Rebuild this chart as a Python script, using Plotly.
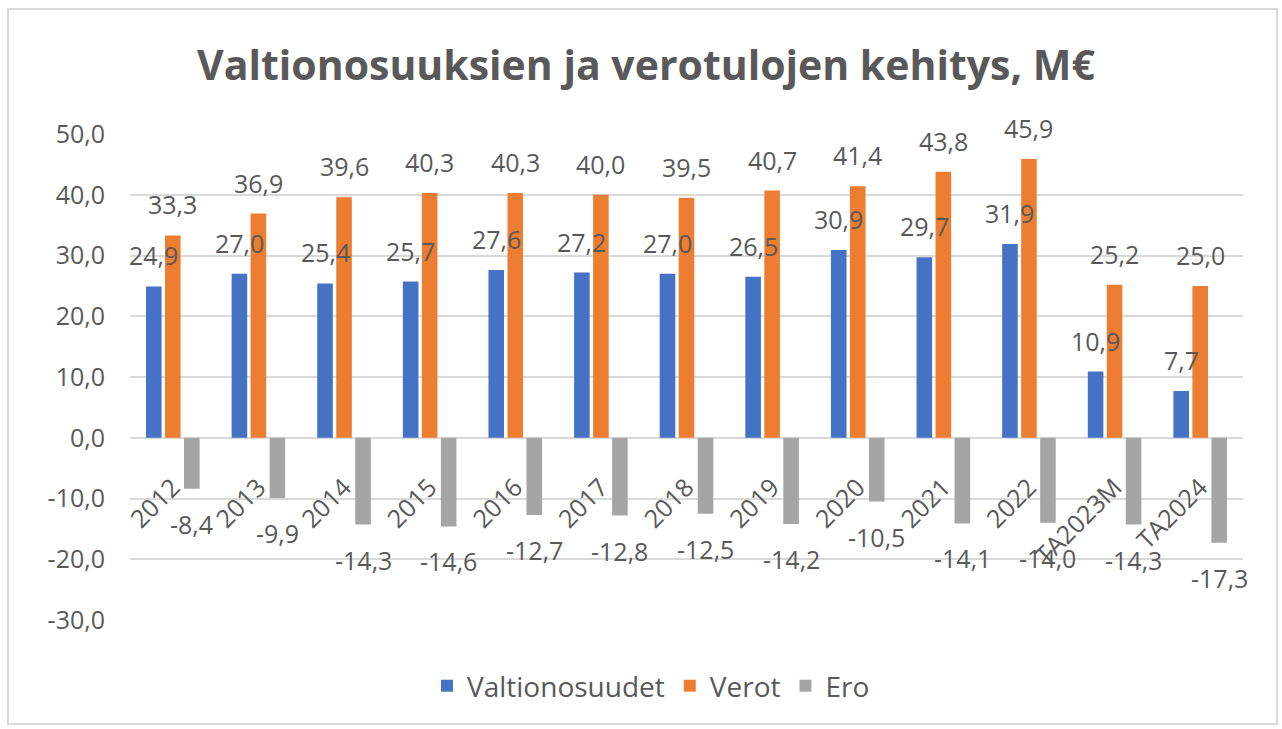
import plotly.graph_objects as go

categories = ["2012", "2013", "2014", "2015", "2016", "2017", "2018", "2019",
              "2020", "2021", "2022", "TA2023M", "TA2024"]
valtionosuudet = [24.9, 27.0, 25.4, 25.7, 27.6, 27.2, 27.0, 26.5, 30.9, 29.7, 31.9, 10.9, 7.7]
verot = [33.3, 36.9, 39.6, 40.3, 40.3, 40.0, 39.5, 40.7, 41.4, 43.8, 45.9, 25.2, 25.0]
ero = [-8.4, -9.9, -14.3, -14.6, -12.7, -12.8, -12.5, -14.2, -10.5, -14.1, -14.0, -14.3, -17.3]
y_ticks = [50, 40, 30, 20, 10, 0, -10, -20, -30]

series = [("Valtionosuudet", valtionosuudet, "#4472C4"),
          ("Verot", verot, "#ED7D31"),
          ("Ero", ero, "#A5A5A5")]


def fmt(v):
    return f"{v:.1f}".replace(".", ",")


FONT = "Open Sans"
TXT = "#595959"
GRID = "#D9D9D9"
W, H = 1282, 729
ML, MR, MT, MB = 130, 39, 134, 109
YMIN, YMAX = -30, 50

fig = go.Figure()
for name, vals, col in series:
    fig.add_trace(go.Bar(name=name, x=categories, y=vals, marker_color=col,
                         marker_line_width=0))

# data labels via annotations (x given as category index)
plot_w = W - ML - MR
cat_w = plot_w / len(categories)
bargap = 0.334
slot = cat_w * (1 - bargap) / 3
annotations = []
for i, (name, vals, col) in enumerate(series):
    off = (i - 1) * slot
    for j, v in enumerate(vals):
        annotations.append(dict(
            x=j, y=v, xref="x", yref="y", text=fmt(v),
            showarrow=False, xshift=off, yshift=31 if v >= 0 else -35,
            yanchor="middle", xanchor="center",
            font=dict(family=FONT, size=25, color=TXT)))

fig.update_layout(
    width=W, height=H,
    margin=dict(l=ML, r=MR, t=MT, b=MB),
    paper_bgcolor="white", plot_bgcolor="white",
    barmode="group", bargap=bargap, bargroupgap=0.18,
    title=dict(text="<b>Valtionosuuksien ja verotulojen kehitys, M€</b>",
               x=(646) / W, xanchor="center", y=1 - 66 / H, yanchor="middle",
               font=dict(family=FONT, size=41, color=TXT)),
    font=dict(family=FONT, size=25, color=TXT),
    legend=dict(orientation="h", x=(651 - ML) / plot_w, xanchor="center",
                y=-(686 - (H - MB)) / (H - MT - MB), yanchor="middle",
                font=dict(family=FONT, size=28, color=TXT),
                traceorder="normal"),
    annotations=annotations,
    showlegend=True,
)
fig.update_yaxes(range=[YMIN, YMAX], tickvals=y_ticks,
                 ticktext=[fmt(t) for t in y_ticks],
                 showgrid=True, gridcolor=GRID, gridwidth=2,
                 zeroline=True, zerolinecolor=GRID, zerolinewidth=2,
                 showline=False, ticks="", ticklabelstandoff=24,
                 tickfont=dict(family=FONT, size=25, color=TXT))
fig.update_xaxes(type="category", categoryorder="array", categoryarray=categories,
                 range=[-0.5, len(categories) - 0.5], autorange=False,
                 tickangle=-45, anchor="free",
                 position=(0 - YMIN) / (YMAX - YMIN),
                 showgrid=False, showline=False, zeroline=False,
                 ticks="outside", ticklen=24, tickcolor="rgba(0,0,0,0)",
                 tickfont=dict(family=FONT, size=25, color=TXT))

# outer chart border
fig.add_shape(type="rect", xref="paper", yref="paper",
              x0=(8 - ML) / plot_w, x1=(1277 - ML) / plot_w,
              y0=-(724 - (H - MB)) / (H - MT - MB), y1=1 + (MT - 9) / (H - MT - MB),
              line=dict(color="#D9D9D9", width=2), fillcolor="rgba(0,0,0,0)",
              layer="below")

fig.write_html("out.html", config={"displayModeBar": False},
               post_script="document.body.style.margin='0px';")
